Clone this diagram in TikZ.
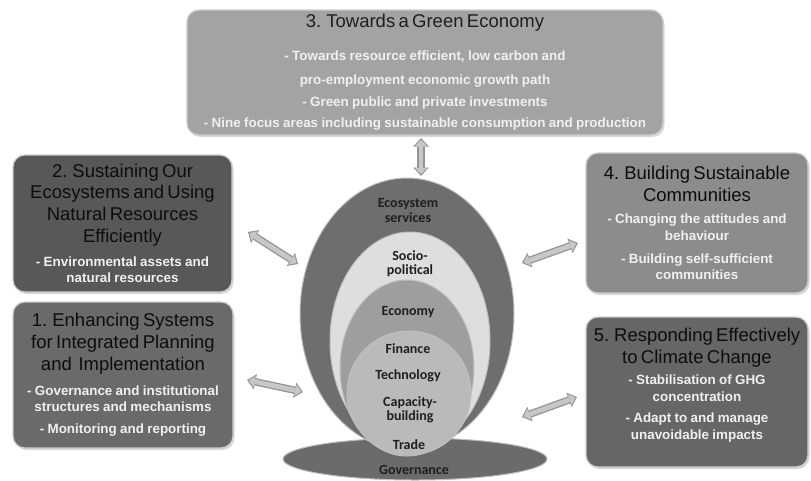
\documentclass[tikz,border=0pt]{standalone}
\usepackage{fontspec}
\setmainfont{Liberation Sans}
\newfontfamily\ringfont{Carlito}
\usetikzlibrary{shapes.geometric,arrows.meta,shadows}

\definecolor{greenbox}{RGB}{163,163,163}
\definecolor{ecobox}{RGB}{88,88,88}
\definecolor{planbox}{RGB}{106,106,106}
\definecolor{commbox}{RGB}{140,140,140}
\definecolor{climbox}{RGB}{102,102,102}

\newcommand\goaltitle{\fontsize{18.5}{21.7}\selectfont\color{black!95}}
\newcommand\goalitem{\fontsize{13.4}{16.8}\selectfont\bfseries\color{white!94!black}}

\tikzset{
  goalbox/.style={draw=white!80!black, line width=1.2pt, rounded corners=12pt,
    align=center, inner sep=2pt,
    drop shadow={shadow xshift=1.5pt, shadow yshift=-2pt, opacity=0.3}},
  ring/.style={ellipse, draw=white!75!black, line width=1pt, inner sep=0pt},
  ringlabel/.style={font=\ringfont\bfseries\fontsize{14}{14.5}\selectfont,
    text=black!88, align=center},
  linkarrow/.style={draw=black!22, line width=4.8pt,
    shorten <=1.8pt, shorten >=1.8pt,
    {Triangle[length=6pt,width=11.5pt,line width=0pt]}-{Triangle[length=6pt,width=11.5pt,line width=0pt]},
    preaction={draw=black!42, line width=7.4pt, shorten <=0pt, shorten >=0pt,
      {Triangle[length=8.5pt,width=15.5pt,line width=0pt]}-{Triangle[length=8.5pt,width=15.5pt,line width=0pt]}}}
}

\begin{document}
\begin{tikzpicture}[x=1pt,y=-1pt]
\useasboundingbox (0,0) rectangle (811,480);

\node[goalbox, fill=greenbox, minimum width=476pt, minimum height=125pt, text width=470pt] (green) at (425,72.5)
  {{\goaltitle\color{black!88} 3. Towards a Green Economy\par}\vspace{11pt}
   {\fontsize{13.4}{21.7}\selectfont\bfseries\color{white!94!black}
    - Towards resource efficient, low carbon and\\[2.5pt]
    pro-employment economic growth path\\
    - Green public and private investments\\
    - Nine focus areas including sustainable consumption and production\par}};

\node[goalbox, fill=ecobox, minimum width=219pt, minimum height=137pt, text width=214pt] (sustain) at (122.5,223.5)
  {{\goaltitle 2. Sustaining Our\\ Ecosystems and Using\\ Natural Resources\\ Efficiently\par}\vspace{7pt}
   {\goalitem - Environmental assets and\\ natural resources\par}};

\node[goalbox, fill=planbox, minimum width=220pt, minimum height=146pt, text width=215pt] (planning) at (123,375)
  {{\goaltitle 1. Enhancing Systems\\ for Integrated Planning\\ and\ \ Implementation\par}\vspace{8pt}
   {\goalitem - Governance and institutional\\ structures and mechanisms\\[5pt] - Monitoring and reporting\par}};

\node[goalbox, fill=commbox, minimum width=222pt, minimum height=140pt, text width=218pt] (community) at (697,223)
  {{\goaltitle 4. Building Sustainable\\ Communities\par}\vspace{6pt}
   {\goalitem - Changing the attitudes and\\ behaviour\\[5.5pt] - Building self-sufficient\\ communities\par}};

\node[goalbox, fill=climbox, minimum width=222pt, minimum height=150pt, text width=218pt] (climate) at (697,392)
  {{\goaltitle 5. Responding Effectively\\ to Climate Change\par}\vspace{4pt}
   {\goalitem - Stabilisation of GHG\\ concentration\\[5pt] - Adapt to and manage\\ unavoidable impacts\rule[-16pt]{0pt}{1pt}\par}};

\node[ring, fill=black!58, minimum width=264pt, minimum height=42pt] (govern) at (415,459) {};
\node[ring, fill=black!57, minimum width=214pt, minimum height=272pt] (ecosys) at (407,314) {};
\node[ring, fill=black!13, minimum width=160pt, minimum height=218pt] (socio) at (410,341) {};
\node[ring, fill=black!38, minimum width=134pt, minimum height=176pt] (economy) at (407,368) {};
\node[ring, fill=black!27, minimum width=124pt, minimum height=124pt] (means) at (409,393) {};

\node[ringlabel] (ecolbl) at (408,210.5) {Ecosystem\\services};
\node[ringlabel] (sociolbl) at (410,263.5) {Socio-\\political};
\node[ringlabel] (econlbl) at (408,312) {Economy};
\node[ringlabel] (finlbl) at (408,349) {Finance};
\node[ringlabel] (techlbl) at (408,376) {Technology};
\node[ringlabel] (caplbl) at (410,410) {Capacity-\\building};
\node[ringlabel] (tradelbl) at (409,445) {Trade};
\node[ringlabel] (govlbl) at (414,470) {Governance};

\coordinate (topin) at (421,138);
\coordinate (topout) at (421,176);
\coordinate (ecoin) at (248,232);
\coordinate (ecoout) at (298,264);
\coordinate (planin) at (247,380);
\coordinate (planout) at (303,392);
\coordinate (commin) at (578,243);
\coordinate (commout) at (522,263);
\coordinate (climin) at (577,397);
\coordinate (climout) at (522,417);

\draw[linkarrow] (topin) -- (topout);
\draw[linkarrow] (ecoin) -- (ecoout);
\draw[linkarrow] (planin) -- (planout);
\draw[linkarrow] (commin) -- (commout);
\draw[linkarrow] (climin) -- (climout);
\end{tikzpicture}
\end{document}
